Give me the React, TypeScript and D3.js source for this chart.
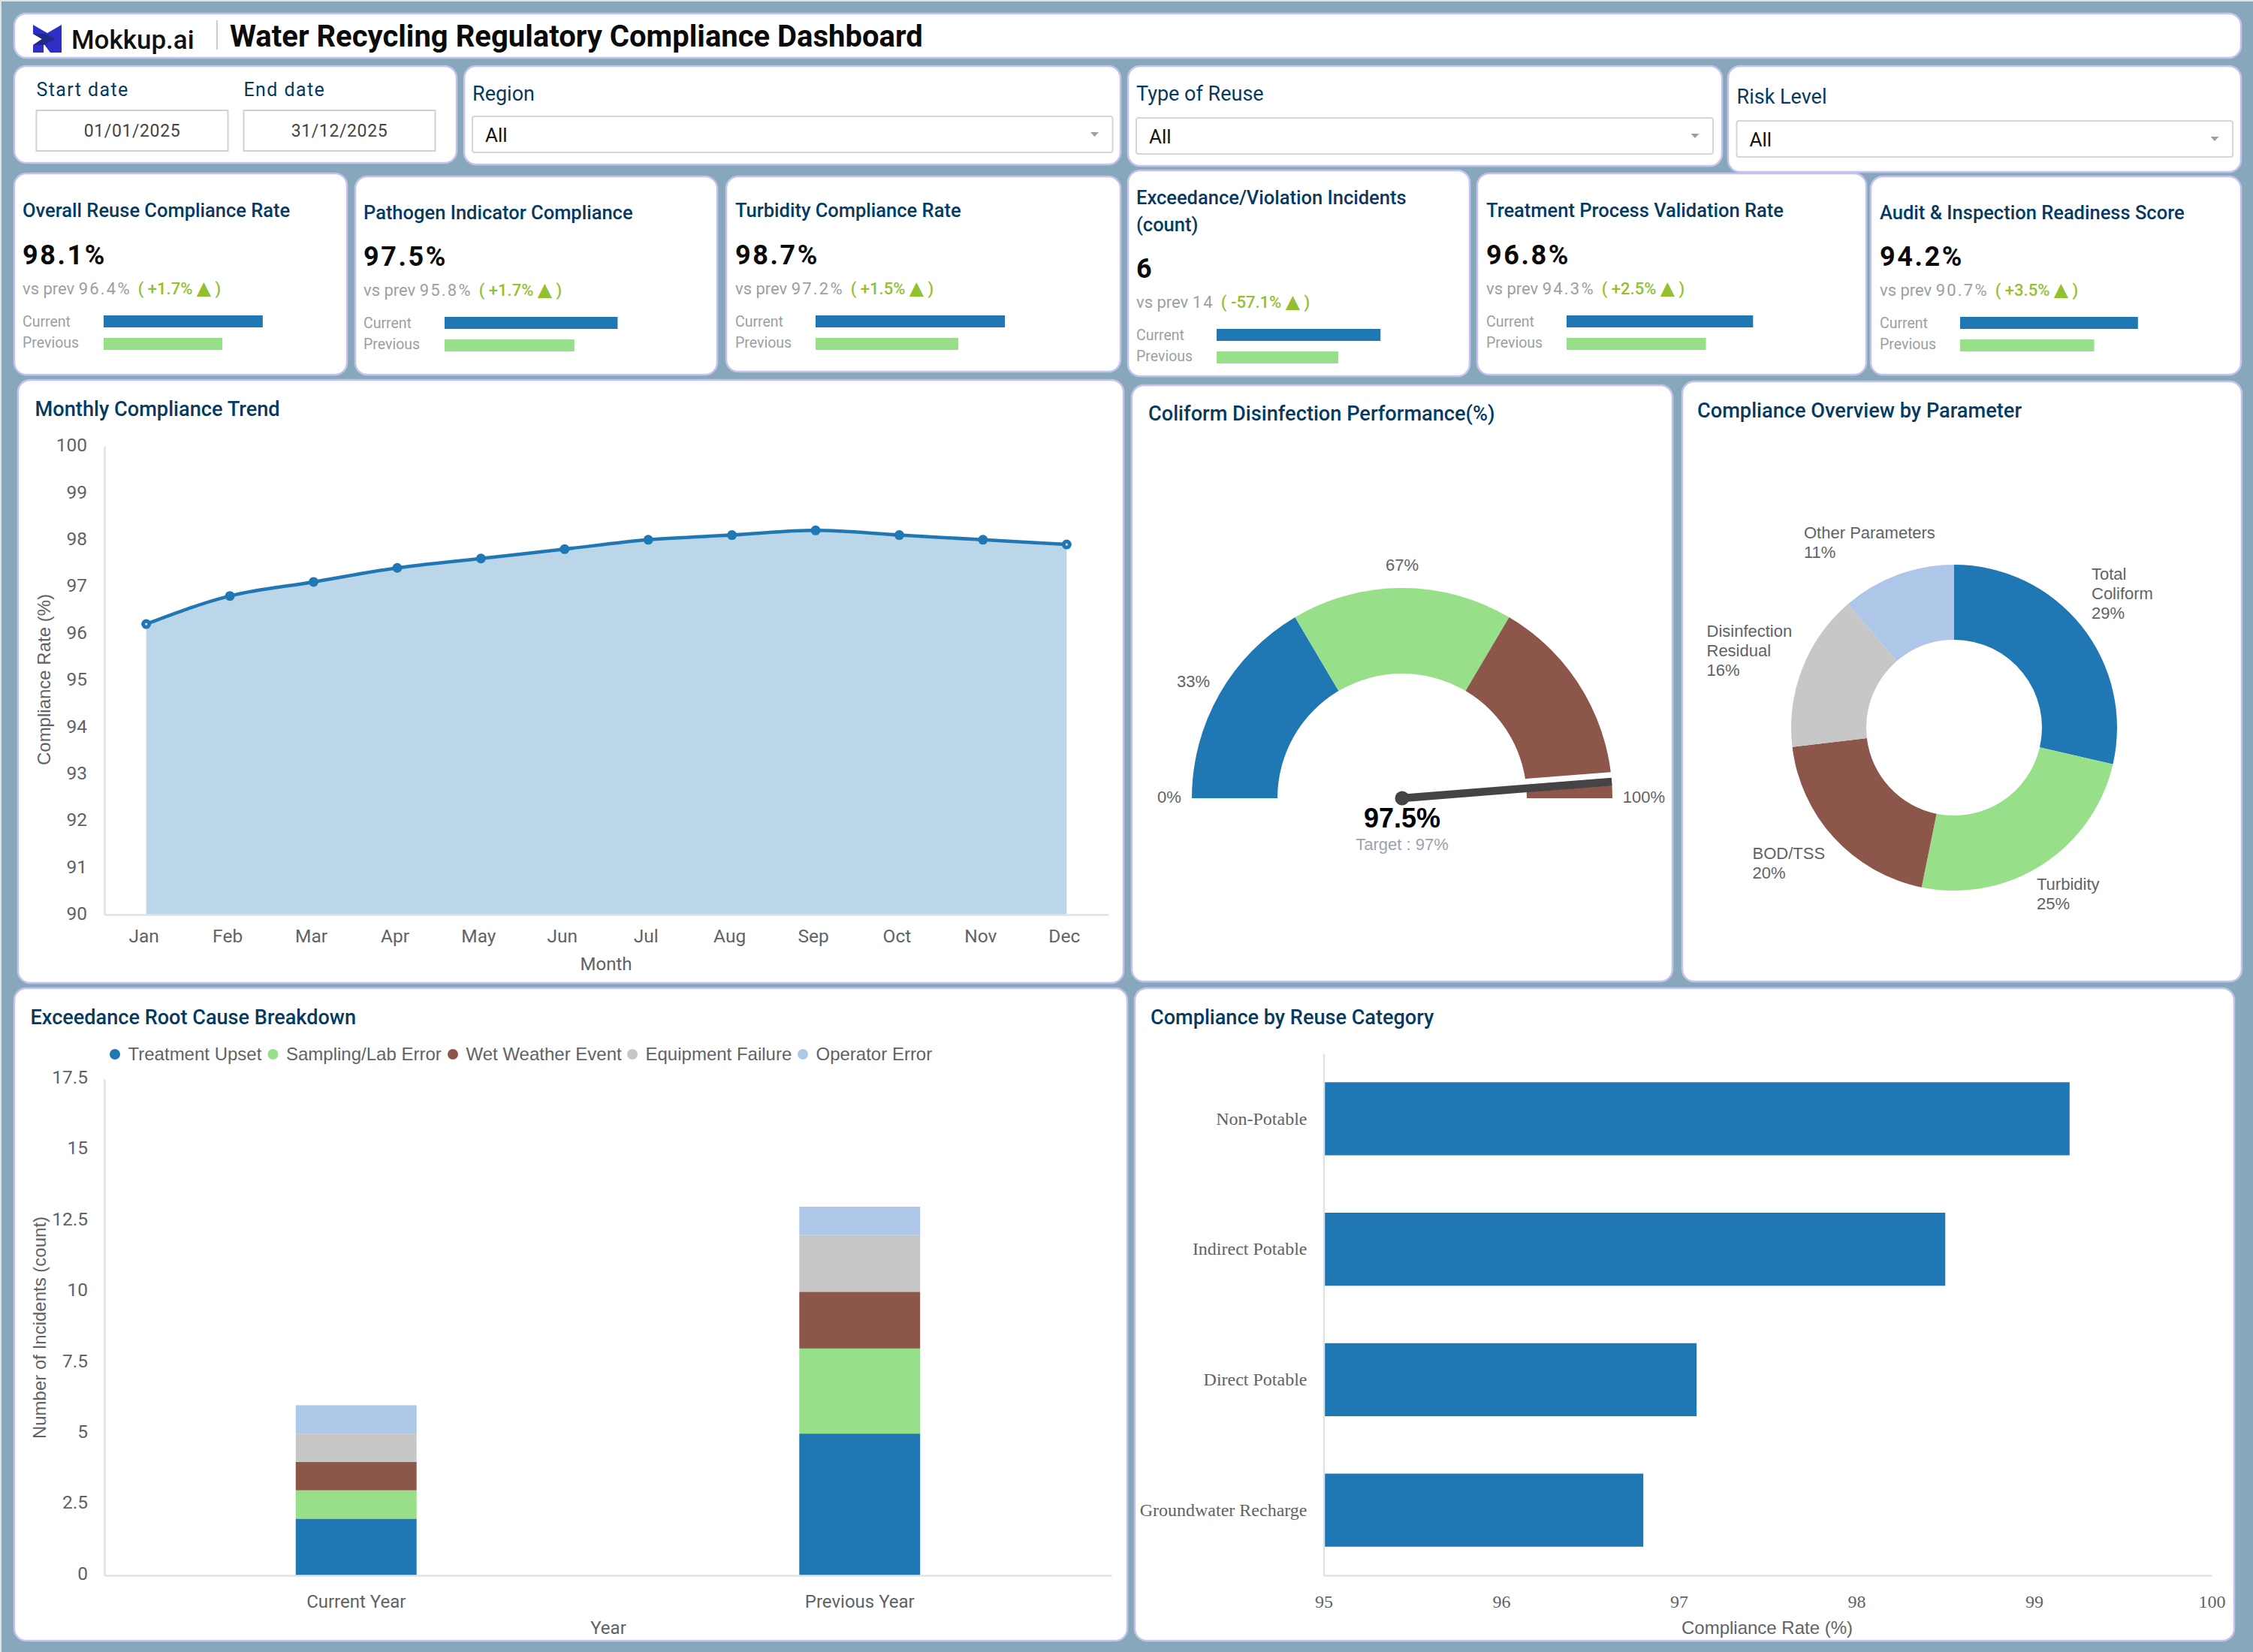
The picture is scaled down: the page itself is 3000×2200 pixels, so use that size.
import { useEffect, useRef } from 'react'
import * as d3 from 'd3'

type Sel = d3.Selection<any, unknown, null, undefined>

const BLUE = '#1f77b4'
const GREEN = '#98df8a'
const BROWN = '#8c564b'
const GREY = '#c7c7c7'
const PALE = '#aec7e8'
const NAVY = '#063a62'
const INK = '#5f6368'
const ROBOTO = 'Roboto, sans-serif'
const ARIAL = '"Liberation Sans", sans-serif'
const SERIF = '"Liberation Serif", serif'

// KPI cards
const kpiTitles = [
  ['Overall Reuse Compliance Rate'],
  ['Pathogen Indicator Compliance'],
  ['Turbidity Compliance Rate'],
  ['Exceedance/Violation Incidents', '(count)'],
  ['Treatment Process Validation Rate'],
  ['Audit & Inspection Readiness Score'],
]
const kpiValues = ['98.1%', '97.5%', '98.7%', '6', '96.8%', '94.2%']
const kpiPrevious = ['96.4%', '95.8%', '97.2%', '14', '94.3%', '90.7%']
const kpiDeltas = ['+1.7%', '+1.7%', '+1.5%', '-57.1%', '+2.5%', '+3.5%']
// length of the mini bars, as share of the mini axis
const kpiBarCurrent = [66.2, 72, 78.8, 68.2, 77.6, 74]
const kpiBarPrevious = [49.4, 54, 59.4, 50.6, 58, 55.8]

// Monthly trend
const months = ['Jan', 'Feb', 'Mar', 'Apr', 'May', 'Jun', 'Jul', 'Aug', 'Sep', 'Oct', 'Nov', 'Dec']
const monthlyRate = [96.2, 96.8, 97.1, 97.4, 97.6, 97.8, 98.0, 98.1, 98.2, 98.1, 98.0, 97.9]
const trendTicks = [90, 91, 92, 93, 94, 95, 96, 97, 98, 99, 100]

// Gauge
const gaugeStops = [0, 33, 67, 100]
const gaugeColors = [BLUE, GREEN, BROWN]
const gaugeValue = 97.5
const gaugeTarget = 97

// Donut
const paramNames = [['Total', 'Coliform'], ['Turbidity'], ['BOD/TSS'], ['Disinfection', 'Residual'], ['Other Parameters']]
const paramShares = [28.6, 24.6, 19.9, 15.6, 11.3]
const paramColors = [BLUE, GREEN, BROWN, GREY, PALE]

// Root cause stack
const years = ['Current Year', 'Previous Year']
const causes = ['Treatment Upset', 'Sampling/Lab Error', 'Wet Weather Event', 'Equipment Failure', 'Operator Error']
const currentYearCounts = [2, 1, 1, 1, 1]
const previousYearCounts = [5, 3, 2, 2, 1]
const stackTicks = [0, 2.5, 5, 7.5, 10, 12.5, 15, 17.5]

// Reuse category
const reuseCategories = ['Non-Potable', 'Indirect Potable', 'Direct Potable', 'Groundwater Recharge']
const reuseRates = [99.2, 98.5, 97.1, 96.8]
const reuseTicks = [95, 96, 97, 98, 99, 100]

function panel(svg: Sel, x0: number, y0: number, x1: number, y1: number) {
  svg.append('rect')
    .attr('x', x0).attr('y', y0)
    .attr('width', x1 - x0).attr('height', y1 - y0)
    .attr('rx', 16)
    .attr('fill', '#fff')
    .attr('stroke', '#c5c2ee').attr('stroke-width', 2.5)
}

function label(
  svg: Sel, x: number, y: number, str: string,
  o: { size?: number; fill?: string; font?: string; weight?: number; anchor?: string; spacing?: number } = {},
) {
  return svg.append('text')
    .attr('x', x).attr('y', y)
    .attr('dy', '0.35em')
    .attr('text-anchor', o.anchor ?? 'start')
    .attr('font-family', o.font ?? ROBOTO)
    .attr('font-size', o.size ?? 24)
    .attr('font-weight', o.weight ?? 400)
    .attr('letter-spacing', o.spacing ?? 0)
    .attr('fill', o.fill ?? INK)
    .text(str)
}

function styleAxis(ax: Sel, font: string, size: number) {
  ax.select('.domain').attr('stroke', '#e2e2e2').attr('stroke-width', 2.5)
  ax.selectAll('.tick line').remove()
  ax.selectAll('.tick text')
    .attr('font-family', font).attr('font-size', size).attr('fill', INK)
}

function drawHeader(svg: Sel) {
  panel(svg, 19, 18, 2984, 77)
  svg.append('path').attr('d', 'M44 33 L63 44 L82 33 L82 70 L67 70 L58 58 L58 70 L44 70 L44 60 L56 52 L44 45 Z').attr('fill', '#2f2fc8')
  svg.append('path').attr('d', 'M44 45 L60 45 L74 52 L58 60 L44 60 L56 52 Z').attr('fill', '#1f2a86')
  label(svg, 95, 53, 'Mokkup.ai', { size: 35, weight: 500, fill: '#111' })
  svg.append('line').attr('x1', 289).attr('x2', 289).attr('y1', 27).attr('y2', 66).attr('stroke', '#b9bcc0').attr('stroke-width', 1.5)
  label(svg, 306, 48, 'Water Recycling Regulatory Compliance Dashboard', { size: 40, weight: 700, fill: '#0a0a0a' })
}

function dateBox(svg: Sel, name: string, value: string, x: number) {
  label(svg, x, 119, name, { size: 25, fill: NAVY, spacing: 1.4 })
  svg.append('rect').attr('x', x).attr('y', 147).attr('width', 255).attr('height', 54)
    .attr('fill', '#fff').attr('stroke', '#d2d2d2').attr('stroke-width', 2)
  label(svg, x + 127.5, 173.5, value, { size: 23, fill: '#444', anchor: 'middle', spacing: 0.6 })
}

function dropdown(svg: Sel, name: string, x0: number, x1: number, labelY: number, boxY: number) {
  label(svg, x0, labelY, name, { size: 27, fill: NAVY })
  svg.append('rect').attr('x', x0).attr('y', boxY).attr('width', x1 - x0).attr('height', 48).attr('rx', 3)
    .attr('fill', '#fff').attr('stroke', '#d6d6d6').attr('stroke-width', 2)
  label(svg, x0 + 17, boxY + 25, 'All', { size: 26, fill: '#111' })
  const cx = x1 - 24
  const cy = boxY + 24
  svg.append('path').attr('d', `M${cx - 5.5} ${cy - 3} L${cx + 5.5} ${cy - 3} L${cx} ${cy + 3} Z`).attr('fill', '#9aa0a6')
}

function drawFilters(svg: Sel) {
  panel(svg, 19, 88, 608, 217)
  dateBox(svg, 'Start date', '01/01/2025', 48.5)
  dateBox(svg, 'End date', '31/12/2025', 324.5)
  panel(svg, 618, 88, 1492, 219)
  dropdown(svg, 'Region', 629, 1481.5, 125, 155)
  panel(svg, 1502, 88, 2293, 221)
  dropdown(svg, 'Type of Reuse', 1513, 2281, 125, 157)
  panel(svg, 2301, 88, 2984, 229)
  dropdown(svg, 'Risk Level', 2312.5, 2973, 129, 161)
}

function drawKpis(svg: Sel) {
  const cards = [
    { x0: 19, x1: 462, y0: 231, y1: 499, tx: 30, bx: 138, dy: 0 },
    { x0: 473, x1: 955, y0: 235, y1: 499, tx: 484, bx: 592, dy: 2 },
    { x0: 967, x1: 1492, y0: 235, y1: 495, tx: 979, bx: 1086, dy: 0 },
    { x0: 1502, x1: 1957, y0: 227, y1: 501, tx: 1513, bx: 1620, dy: 18 },
    { x0: 1967, x1: 2485, y0: 231, y1: 499, tx: 1979, bx: 2086, dy: 0 },
    { x0: 2491, x1: 2984, y0: 235, y1: 499, tx: 2503, bx: 2610, dy: 2 },
  ]
  const miniX = d3.scaleLinear().domain([0, 100]).range([0, 320])
  cards.forEach((c, i) => {
    panel(svg, c.x0, c.y0, c.x1, c.y1)
    const lines = kpiTitles[i]
    lines.forEach((t, k) => {
      const ty = lines.length > 1 ? 263 + k * 36.5 : 280 + c.dy * 1.5
      label(svg, c.tx, ty, t, { size: 25.5, weight: 500, fill: NAVY })
    })
    label(svg, c.tx, 339 + c.dy, kpiValues[i], { size: 36, weight: 700, fill: '#0a0a0a', spacing: 2.6 })
    const row = svg.append('text').attr('x', c.tx).attr('y', 392 + c.dy).attr('font-family', ROBOTO).attr('font-size', 22)
    row.append('tspan').attr('fill', '#9aa0a6').text('vs prev ')
    row.append('tspan').attr('fill', '#9aa0a6').attr('letter-spacing', 2.2).text(kpiPrevious[i])
    row.append('tspan').attr('fill', '#93c02f').attr('dx', 9).attr('font-weight', 500).text(`( ${kpiDeltas[i]} `)
    row.append('tspan').attr('fill', '#93c02f').attr('font-family', '"DejaVu Sans"').attr('font-size', 25).text('▲')
    row.append('tspan').attr('fill', '#93c02f').attr('font-weight', 500).text(' )')
    label(svg, c.tx, 428 + c.dy, 'Current', { size: 19.5, fill: '#9aa0a6' })
    label(svg, c.tx, 456 + c.dy, 'Previous', { size: 19.5, fill: '#9aa0a6' })
    svg.append('rect').attr('x', c.bx).attr('y', 420 + c.dy).attr('width', miniX(kpiBarCurrent[i])).attr('height', 16).attr('fill', BLUE)
    svg.append('rect').attr('x', c.bx).attr('y', 450 + c.dy).attr('width', miniX(kpiBarPrevious[i])).attr('height', 16).attr('fill', GREEN)
  })
}

function drawTrend(svg: Sel) {
  panel(svg, 24, 506, 1496, 1309)
  label(svg, 46.5, 544, 'Monthly Compliance Trend', { size: 27.2, weight: 500, fill: NAVY })
  const x = d3.scaleBand<string>().domain(months).range([139, 1476])
  const y = d3.scaleLinear().domain([90, 100]).range([1218, 594])
  const px = (_: number, i: number) => (x(months[i]) ?? 0) + x.bandwidth() / 2

  const area = d3.area<number>().x(px).y0(y(90)).y1(v => y(v)).curve(d3.curveMonotoneX)
  const line = d3.line<number>().x(px).y(v => y(v)).curve(d3.curveMonotoneX)
  svg.append('path').attr('d', area(monthlyRate)).attr('fill', BLUE).attr('fill-opacity', 0.3)

  svg.append('g').attr('transform', 'translate(139,0)')
    .call(d3.axisLeft(y).tickValues(trendTicks).tickFormat(d3.format('d')).tickSize(0).tickPadding(23))
    .call(ax => {
      styleAxis(ax, ROBOTO, 24.5)
      ax.selectAll('.tick text').attr('dy', '0.27em')
    })
  svg.append('g').attr('transform', 'translate(0,1218)')
    .call(d3.axisBottom(x).tickSize(0).tickPadding(20))
    .call(ax => {
      styleAxis(ax, ROBOTO, 24.5)
      ax.selectAll('.tick text').attr('dx', -3)
    })

  svg.append('path').attr('d', line(monthlyRate)).attr('fill', 'none').attr('stroke', BLUE).attr('stroke-width', 4.5)
  svg.selectAll('.trend-dot').data(monthlyRate).enter().append('circle')
    .attr('class', 'trend-dot')
    .attr('cx', px).attr('cy', v => y(v)).attr('r', 6.5).attr('fill', BLUE)
  // the two end points keep a pale pin hole
  ;[0, monthlyRate.length - 1].forEach(i => {
    svg.append('circle').attr('cx', px(0, i)).attr('cy', y(monthlyRate[i])).attr('r', 1.6).attr('fill', '#d8e8f3')
  })

  label(svg, 807, 1284, 'Month', { size: 24, anchor: 'middle', font: ROBOTO })
  label(svg, 0, 0, 'Compliance Rate (%)', { size: 24, anchor: 'middle', font: ARIAL })
    .attr('transform', 'translate(59,905) rotate(-90)')
}

function drawGauge(svg: Sel) {
  panel(svg, 1507, 513, 2227, 1307)
  label(svg, 1529, 550, 'Coliform Disinfection Performance(%)', { size: 27.2, weight: 500, fill: NAVY })
  const cx = 1867
  const cy = 1063
  const a = d3.scaleLinear().domain([0, 100]).range([-Math.PI / 2, Math.PI / 2])
  const arc = d3.arc<{ from: number; to: number }>()
    .innerRadius(166).outerRadius(280)
    .startAngle(d => a(d.from)).endAngle(d => a(d.to))
  const g = svg.append('g').attr('transform', `translate(${cx},${cy})`)
  gaugeColors.forEach((color, i) => {
    g.append('path')
      .attr('d', arc({ from: gaugeStops[i], to: gaugeStops[i + 1] }))
      .attr('fill', color)
  })

  // needle, with the white gap the original leaves above it
  const theta = a(gaugeValue)
  const tx = Math.sin(theta) * 280
  const ty = -Math.cos(theta) * 280
  g.append('line').attr('x1', 0).attr('y1', -9).attr('x2', tx + 2).attr('y2', ty - 9)
    .attr('stroke', '#fff').attr('stroke-width', 8)
  g.append('line').attr('x1', 0).attr('y1', 0).attr('x2', tx).attr('y2', ty)
    .attr('stroke', '#444').attr('stroke-width', 10.5)
  g.append('circle').attr('r', 9.5).attr('fill', '#444')

  label(svg, 1557, 1061, `${gaugeStops[0]}%`, { size: 22, font: ARIAL, anchor: 'middle' })
  label(svg, 1589, 907, `${gaugeStops[1]}%`, { size: 22, font: ARIAL, anchor: 'middle' })
  label(svg, 1867, 752.5, `${gaugeStops[2]}%`, { size: 22, font: ARIAL, anchor: 'middle' })
  label(svg, 2189, 1061, `${gaugeStops[3]}%`, { size: 22, font: ARIAL, anchor: 'middle' })
  label(svg, cx, 1089, `${gaugeValue}%`, { size: 36, weight: 700, font: ARIAL, anchor: 'middle', fill: '#000' })
  label(svg, cx, 1124.5, `Target : ${gaugeTarget}%`, { size: 22, font: ARIAL, anchor: 'middle', fill: '#9ca3af' })
}

function drawDonut(svg: Sel) {
  panel(svg, 2240, 508, 2985, 1307)
  label(svg, 2260, 546, 'Compliance Overview by Parameter', { size: 27.2, weight: 500, fill: NAVY })
  const pie = d3.pie<number>().sort(null)
  const arc = d3.arc<d3.PieArcDatum<number>>().innerRadius(117).outerRadius(217)
  const g = svg.append('g').attr('transform', 'translate(2602,969)')
  g.selectAll('path').data(pie(paramShares)).enter().append('path')
    .attr('d', arc)
    .attr('fill', (_, i) => paramColors[i])

  const spots = [
    { x: 2785, y: 764 },
    { x: 2712, y: 1177 },
    { x: 2333.5, y: 1136.5 },
    { x: 2272.5, y: 840.5 },
    { x: 2402, y: 709 },
  ]
  spots.forEach((s, i) => {
    const lines = [...paramNames[i], `${Math.round(paramShares[i])}%`]
    lines.forEach((t, k) => label(svg, s.x, s.y + k * 26, t, { size: 22, font: ARIAL }))
  })
}

function drawStack(svg: Sel) {
  panel(svg, 19, 1316, 1501, 2185)
  label(svg, 40.5, 1354.5, 'Exceedance Root Cause Breakdown', { size: 27.1, weight: 500, fill: NAVY })

  const legendDotX = [153, 363.5, 603, 842, 1069]
  causes.forEach((c, i) => {
    svg.append('circle').attr('cx', legendDotX[i]).attr('cy', 1404).attr('r', 7).attr('fill', paramColors[i])
    label(svg, legendDotX[i] + 17.5, 1404, c, { size: 24, font: ARIAL })
  })

  const x = d3.scaleBand<string>().domain(years).range([139, 1480]).paddingInner(0.76).paddingOuter(0.38)
  const y = d3.scaleLinear().domain([0, 17.5]).range([2098, 1437])
  const rows = years.map((yr, i) => {
    const src = i === 0 ? currentYearCounts : previousYearCounts
    const row: Record<string, number | string> = { year: yr }
    causes.forEach((c, k) => { row[c] = src[k] })
    return row
  })
  const stack = d3.stack<Record<string, number | string>>().keys(causes)
  stack(rows).forEach((series, i) => {
    series.forEach(d => {
      svg.append('rect')
        .attr('x', x(d.data.year as string) ?? 0)
        .attr('y', y(d[1]))
        .attr('width', x.bandwidth())
        .attr('height', y(d[0]) - y(d[1]))
        .attr('fill', paramColors[i])
    })
  })

  svg.append('g').attr('transform', 'translate(139,0)')
    .call(d3.axisLeft(y).tickValues(stackTicks).tickFormat(d => String(d)).tickSize(0).tickPadding(22))
    .call(ax => {
      styleAxis(ax, ROBOTO, 24.5)
      ax.selectAll('.tick text').attr('dy', '0.22em')
    })
  svg.append('g').attr('transform', 'translate(0,2098)')
    .call(d3.axisBottom(x).tickSize(0).tickPadding(26))
    .call(ax => styleAxis(ax, ROBOTO, 24))

  label(svg, 810, 2168, 'Year', { size: 24, anchor: 'middle' })
  label(svg, 0, 0, 'Number of Incidents (count)', { size: 24, anchor: 'middle', font: ARIAL })
    .attr('transform', 'translate(53,1768) rotate(-90)')
}

function drawBars(svg: Sel) {
  panel(svg, 1511, 1316, 2975, 2185)
  label(svg, 1532, 1354.5, 'Compliance by Reuse Category', { size: 27.1, weight: 500, fill: NAVY })
  const x = d3.scaleLinear().domain([95, 100]).range([1762.5, 2945])
  const y = d3.scaleBand<string>().domain(reuseCategories).range([1403, 2098]).paddingInner(0.44).paddingOuter(0.22)
  reuseCategories.forEach((c, i) => {
    svg.append('rect')
      .attr('x', x(95)).attr('y', y(c) ?? 0)
      .attr('width', x(reuseRates[i]) - x(95)).attr('height', y.bandwidth())
      .attr('fill', BLUE)
  })
  svg.append('g').attr('transform', 'translate(1762.5,0)')
    .call(d3.axisLeft(y).tickSize(0).tickPadding(22))
    .call(ax => styleAxis(ax, SERIF, 24))
  svg.append('g').attr('transform', 'translate(0,2098)')
    .call(d3.axisBottom(x).tickValues(reuseTicks).tickFormat(d3.format('d')).tickSize(0).tickPadding(26))
    .call(ax => styleAxis(ax, SERIF, 24))
  label(svg, 2353, 2168, 'Compliance Rate (%)', { size: 24, anchor: 'middle', font: ARIAL })
}

export default function App() {
  const svgRef = useRef<SVGSVGElement>(null)

  useEffect(() => {
    if (!svgRef.current) return
    document.body.style.margin = '0'
    const svg = d3.select(svgRef.current) as unknown as Sel
    svg.selectAll('*').remove()

    svg.append('rect').attr('width', 3000).attr('height', 2200).attr('fill', '#87a8ba')
    svg.append('rect').attr('width', 3000).attr('height', 2).attr('fill', '#dfe2e4')
    svg.append('rect').attr('width', 2).attr('height', 2200).attr('fill', '#dfe2e4')

    drawHeader(svg)
    drawFilters(svg)
    drawKpis(svg)
    drawTrend(svg)
    drawGauge(svg)
    drawDonut(svg)
    drawStack(svg)
    drawBars(svg)
  }, [])

  return <svg ref={svgRef} width={3000} height={2200} style={{ display: 'block' }} />
}
